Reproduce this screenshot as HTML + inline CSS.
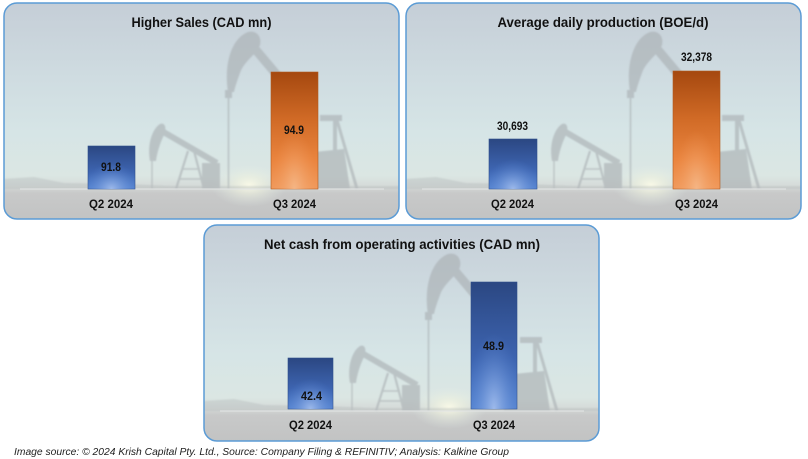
<!DOCTYPE html>
<html><head><meta charset="utf-8"><style>
html,body{margin:0;padding:0;background:#fff;}
svg{display:block;}
text{font-family:"Liberation Sans",sans-serif;font-weight:bold;fill:#111;}
</style></head><body>
<svg width="808" height="459" viewBox="0 0 808 459" xmlns="http://www.w3.org/2000/svg">
<defs>
  <linearGradient id="sky" x1="0" y1="0" x2="0" y2="1">
    <stop offset="0" stop-color="#c5ced7"/>
    <stop offset="0.35" stop-color="#cfdce1"/>
    <stop offset="0.6" stop-color="#d6e5e6"/>
    <stop offset="0.8" stop-color="#dbe6e3"/>
    <stop offset="0.85" stop-color="#d5dad8"/>
    <stop offset="0.88" stop-color="#c8c9c9"/>
    <stop offset="1" stop-color="#c2c3c3"/>
  </linearGradient>
  <radialGradient id="sun" cx="0.5" cy="0.5" r="0.5">
    <stop offset="0" stop-color="#fbfbe8" stop-opacity="0.95"/>
    <stop offset="0.4" stop-color="#eef2e0" stop-opacity="0.6"/>
    <stop offset="1" stop-color="#e0ebe6" stop-opacity="0"/>
  </radialGradient>
  <linearGradient id="blue" x1="0" y1="0" x2="0" y2="1">
    <stop offset="0" stop-color="#2b4782"/>
    <stop offset="0.6" stop-color="#3d64b0"/>
    <stop offset="1" stop-color="#5584d2"/>
  </linearGradient>
  <radialGradient id="blueHi" cx="0.5" cy="1" r="0.6">
    <stop offset="0" stop-color="#a6c0ee" stop-opacity="0.9"/>
    <stop offset="1" stop-color="#5584d2" stop-opacity="0"/>
  </radialGradient>
  <linearGradient id="orange" x1="0" y1="0" x2="0" y2="1">
    <stop offset="0" stop-color="#a5480f"/>
    <stop offset="0.4" stop-color="#d06a26"/>
    <stop offset="0.75" stop-color="#ea843e"/>
    <stop offset="1" stop-color="#f19a5c"/>
  </linearGradient>
  <radialGradient id="orangeHi" cx="0.5" cy="1" r="0.5">
    <stop offset="0" stop-color="#f6bd90" stop-opacity="0.8"/>
    <stop offset="1" stop-color="#f19a5c" stop-opacity="0"/>
  </radialGradient>
  <filter id="soft" x="-5%" y="-5%" width="110%" height="110%"><feGaussianBlur stdDeviation="0.9"/></filter>
  <clipPath id="pclip"><rect x="0" y="0" width="395" height="216" rx="13" ry="13"/></clipPath>
  <g id="bg">
    <g clip-path="url(#pclip)">
      <rect x="0" y="0" width="395" height="216" fill="url(#sky)"/>
      <ellipse cx="245" cy="182" rx="38" ry="22" fill="url(#sun)"/>
      <g fill="#a9afb2" stroke="#a9afb2" opacity="0.62" filter="url(#soft)">
        <!-- big pumpjack head -->
        <path d="M224,89 C220,64 226,36 244,29 C252,27 258,33 256,42 C252,52 240,58 236,70 C233,78 231,84 230,89 Z" stroke="none"/>
        <line x1="246" y1="40" x2="300" y2="104" stroke-width="9"/>
        <rect x="221" y="87" width="7" height="8" stroke="none"/>
        <line x1="224.5" y1="95" x2="224.5" y2="186" stroke-width="1.6"/>
        <!-- rear structure -->
        <rect x="316" y="112" width="22" height="6" stroke="none"/>
        <line x1="331" y1="116" x2="331" y2="186" stroke-width="4"/>
        <line x1="333" y1="117" x2="353" y2="186" stroke-width="3"/>
        <path d="M300,150 L340,146 L346,186 L300,186 Z" stroke="none"/>
        <!-- small pumpjack -->
        <path d="M146,158 C143,142 148,126 156,121 C161,119 163,125 160,132 C156,140 153,150 152,158 Z" stroke="none"/>
        <line x1="156" y1="127" x2="213" y2="160" stroke-width="6"/>
        <line x1="148" y1="158" x2="148" y2="186" stroke-width="1.4"/>
        <line x1="184" y1="148" x2="172" y2="186" stroke-width="2.2"/>
        <line x1="190" y1="148" x2="200" y2="186" stroke-width="2.2"/>
        <line x1="178" y1="166" x2="196" y2="166" stroke-width="1.5"/>
        <line x1="175" y1="176" x2="198" y2="176" stroke-width="1.5"/>
        <rect x="198" y="160" width="18" height="26" stroke="none"/>
        <!-- ground bits -->
        <path d="M0,186 L0,176 L30,174 L60,180 L120,181 L170,183 L395,183 L395,186 Z" stroke="none" opacity="0.5"/>
      </g>
      <line x1="16" y1="186" x2="380" y2="186" stroke="#e4e6e6" stroke-width="1"/>
    </g>
    <rect x="0" y="0" width="395" height="216" rx="13" ry="13" fill="none" stroke="#5b9bd5" stroke-width="1.5"/>
  </g>
</defs>

<!-- Panel 1 -->
<use href="#bg" x="4" y="3"/>
<!-- Panel 2 -->
<use href="#bg" x="406" y="3"/>
<!-- Panel 3 -->
<use href="#bg" x="204" y="225"/>

<!-- Panel 1 content -->
<text x="201.5" y="27" font-size="14" text-anchor="middle" textLength="140" lengthAdjust="spacingAndGlyphs">Higher Sales (CAD mn)</text>
<rect x="88" y="146" width="47" height="43" fill="url(#blue)" stroke="#2f4f8a" stroke-width="0.6"/>
<rect x="88" y="146" width="47" height="43" fill="url(#blueHi)"/>
<rect x="271" y="72" width="47" height="117" fill="url(#orange)" stroke="#b05a20" stroke-width="0.6"/>
<rect x="271" y="72" width="47" height="117" fill="url(#orangeHi)"/>
<text x="111" y="171" font-size="11.5" text-anchor="middle" textLength="20" lengthAdjust="spacingAndGlyphs">91.8</text>
<text x="294" y="134" font-size="11.5" text-anchor="middle" textLength="20" lengthAdjust="spacingAndGlyphs">94.9</text>
<text x="111" y="208" font-size="12" text-anchor="middle" textLength="44" lengthAdjust="spacingAndGlyphs">Q2 2024</text>
<text x="294.5" y="208" font-size="12" text-anchor="middle" textLength="43" lengthAdjust="spacingAndGlyphs">Q3 2024</text>

<!-- Panel 2 content -->
<text x="603" y="27" font-size="14" text-anchor="middle" textLength="211" lengthAdjust="spacingAndGlyphs">Average daily production (BOE/d)</text>
<rect x="489" y="139" width="48" height="50" fill="url(#blue)" stroke="#2f4f8a" stroke-width="0.6"/>
<rect x="489" y="139" width="48" height="50" fill="url(#blueHi)"/>
<rect x="673" y="71" width="47" height="118" fill="url(#orange)" stroke="#b05a20" stroke-width="0.6"/>
<rect x="673" y="71" width="47" height="118" fill="url(#orangeHi)"/>
<text x="512.5" y="130" font-size="11.5" text-anchor="middle" textLength="31" lengthAdjust="spacingAndGlyphs">30,693</text>
<text x="696.5" y="61" font-size="11.5" text-anchor="middle" textLength="31" lengthAdjust="spacingAndGlyphs">32,378</text>
<text x="512.5" y="208" font-size="12" text-anchor="middle" textLength="43" lengthAdjust="spacingAndGlyphs">Q2 2024</text>
<text x="696.5" y="208" font-size="12" text-anchor="middle" textLength="43" lengthAdjust="spacingAndGlyphs">Q3 2024</text>

<!-- Panel 3 content -->
<text x="402" y="249" font-size="14" text-anchor="middle" textLength="276" lengthAdjust="spacingAndGlyphs">Net cash from operating activities (CAD mn)</text>
<rect x="288" y="358" width="45" height="51" fill="url(#blue)" stroke="#2f4f8a" stroke-width="0.6"/>
<rect x="288" y="358" width="45" height="51" fill="url(#blueHi)"/>
<rect x="471" y="282" width="46" height="127" fill="url(#blue)" stroke="#2f4f8a" stroke-width="0.6"/>
<rect x="471" y="282" width="46" height="127" fill="url(#blueHi)"/>
<text x="311.5" y="400" font-size="11.5" text-anchor="middle" textLength="21" lengthAdjust="spacingAndGlyphs">42.4</text>
<text x="493.5" y="350" font-size="11.5" text-anchor="middle" textLength="21" lengthAdjust="spacingAndGlyphs">48.9</text>
<text x="310.5" y="429" font-size="12" text-anchor="middle" textLength="43" lengthAdjust="spacingAndGlyphs">Q2 2024</text>
<text x="494" y="429" font-size="12" text-anchor="middle" textLength="42" lengthAdjust="spacingAndGlyphs">Q3 2024</text>

<!-- Caption -->
<text x="14" y="455" font-size="10.5" font-style="italic" textLength="495" lengthAdjust="spacingAndGlyphs" style="font-weight:normal;fill:#222">Image source: © 2024 Krish Capital Pty. Ltd., Source: Company Filing &amp; REFINITIV; Analysis: Kalkine Group</text>
</svg>
</body></html>
